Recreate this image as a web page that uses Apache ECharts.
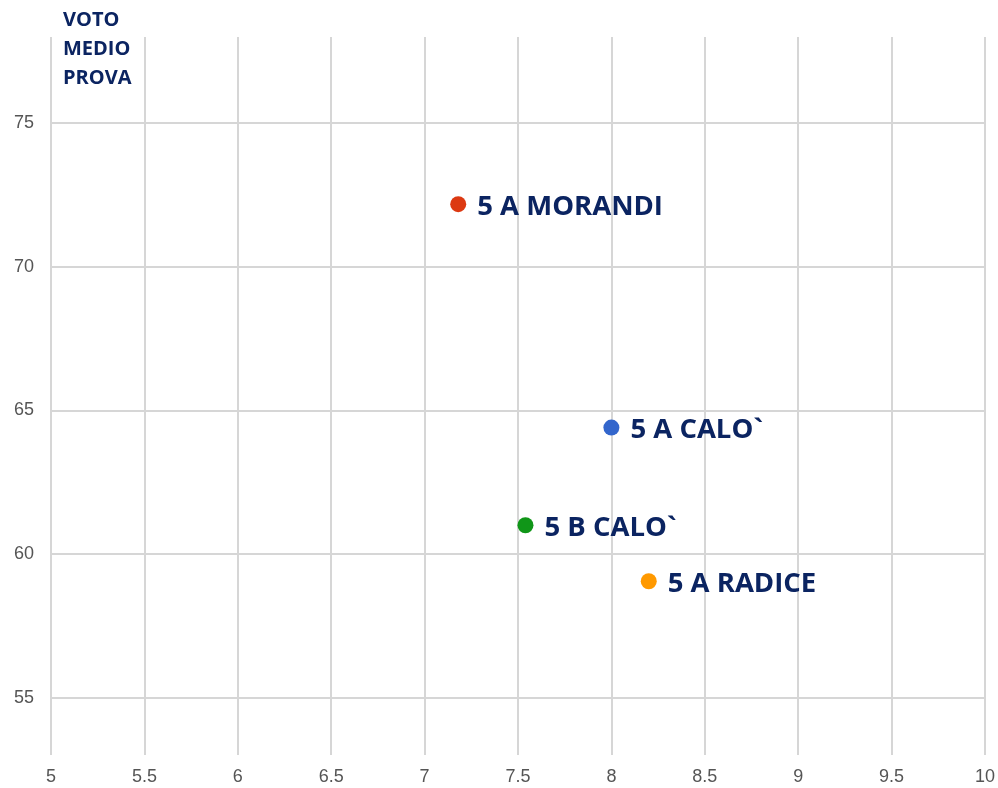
<!DOCTYPE html>
<html>
<head>
<meta charset="utf-8">
<title>Voto medio prova</title>
<script src="https://cdn.jsdelivr.net/npm/echarts@6/dist/echarts.min.js"></script>
<style>
  html, body { margin: 0; padding: 0; background: #fff; }
  #chart { width: 998px; height: 788px; }
</style>
</head>
<body>
<div id="chart"></div>
<script>
// classi e valori
const classNames = ['5 A MORANDI', '5 A CALO`', '5 B CALO`', '5 A RADICE']
const xValues = [7.18, 8.0, 7.54, 8.2]
const yValues = [72.18, 64.4, 61.0, 59.05]
const xTicks = [5, 5.5, 6, 6.5, 7, 7.5, 8, 8.5, 9, 9.5, 10]
const yTicks = [55, 60, 65, 70, 75]
const dotColors = ['#dc3912', '#3366cc', '#109618', '#ff9900']

const navy = '#0b2461'
const gridColor = '#d6d6d6'

const chart = echarts.init(document.getElementById('chart'))

const series = classNames.map((name, i) => ({
  name,
  type: 'scatter',
  symbol: 'circle',
  symbolSize: 16,
  itemStyle: { color: dotColors[i], opacity: 1 },
  label: {
    show: true,
    position: 'right',
    distance: 11,
    offset: [0, 3],
    formatter: name,
    color: navy,
    opacity: 1,
    fontFamily: 'Open Sans',
    fontWeight: 'bold',
    fontSize: 27.5
  },
  data: [[xValues[i], yValues[i]]]
}))

chart.setOption({
  animation: false,
  title: {
    text: 'VOTO\nMEDIO\nPROVA',
    left: 63,
    top: 6,
    padding: 0,
    textStyle: {
      color: navy,
      fontFamily: 'Open Sans',
      fontWeight: 'bold',
      fontSize: 20,
      lineHeight: 29
    }
  },
  grid: { left: 51, right: 13, top: 37, bottom: 33 },
  xAxis: {
    type: 'value',
    min: 5,
    max: 10,
    interval: 0.5,
    axisLine: { show: false },
    axisTick: { show: false },
    axisLabel: {
      color: '#555',
      fontFamily: 'Liberation Sans',
      fontSize: 18,
      margin: 13,
      formatter: v => String(v)
    },
    splitLine: { show: true, lineStyle: { color: gridColor, width: 2 } }
  },
  yAxis: {
    type: 'value',
    min: 53,
    max: 78,
    axisLine: { show: false },
    axisTick: { show: false, customValues: yTicks },
    axisLabel: {
      color: '#555',
      fontFamily: 'Liberation Sans',
      fontSize: 18,
      margin: 17,
      customValues: yTicks
    },
    splitLine: { show: true, lineStyle: { color: gridColor, width: 2 } }
  },
  series
})
</script>
</body>
</html>
